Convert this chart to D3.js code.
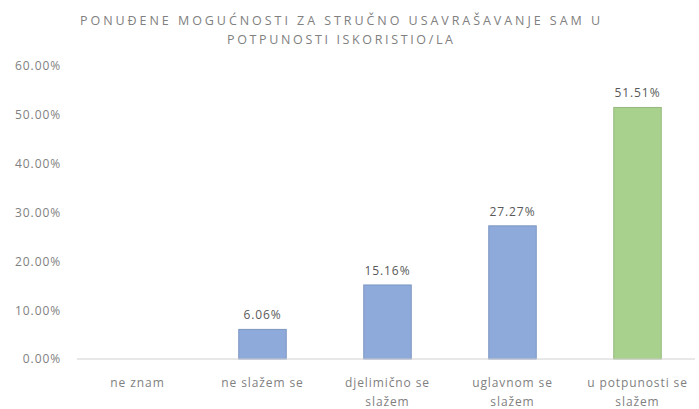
<!DOCTYPE html>
<html>
<head>
<meta charset="utf-8">
<script src="https://cdn.jsdelivr.net/npm/d3@7"></script>
<style>
    body { margin: 0; background: #ffffff; }
    text { font-family: "Open Sans", "Liberation Sans", sans-serif; }
</style>
</head>
<body>
<div id="chart"></div>
<script>
// chart data
const categories = [['ne znam'], ['ne slažem se'], ['djelimično se', 'slažem'], ['uglavnom se', 'slažem'], ['u potpunosti se', 'slažem']];
const values = [0, 6.06, 15.16, 27.27, 51.51];
const valueLabels = ['', '6.06%', '15.16%', '27.27%', '51.51%'];
const barColors = ['#8eaadb', '#8eaadb', '#8eaadb', '#8eaadb', '#a9d18e'];
const yTicks = [0, 10, 20, 30, 40, 50, 60];
const titleLines = ['PONUĐENE MOGUĆNOSTI ZA STRUČNO USAVRAŠAVANJE SAM U', 'POTPUNOSTI ISKORISTIO/LA'];

const width = 699, height = 409;
const labelSize = '12px';
const labelSpacing = '0.9px';

const svg = d3.select('#chart')
    .append('svg')
    .attr('width', width)
    .attr('height', height);

const idx = d3.range(values.length);

const x = d3.scaleBand()
    .domain(idx)
    .range([75, 700])
    .paddingInner(0.62)
    .paddingOuter(0.31);

const y = d3.scaleLinear()
    .domain([0, 60])
    .range([359, 66]);

// title, stretched to the width it has in the original
const titleWidths = [520, 226];
svg.append('g')
    .selectAll('text')
    .data(titleLines)
    .enter()
    .append('text')
    .attr('x', 340)
    .attr('y', (d, i) => 25 + i * 19)
    .attr('text-anchor', 'middle')
    .attr('fill', '#808080')
    .attr('textLength', (d, i) => titleWidths[i])
    .attr('lengthAdjust', 'spacing')
    .style('font-size', '12.5px')
    .text(d => d);

// y axis labels (no line)
const yAxis = d3.axisLeft(y)
    .tickValues(yTicks)
    .tickSize(0)
    .tickPadding(0)
    .tickFormat(d => d.toFixed(2) + '%');

svg.append('g')
    .attr('transform', 'translate(61,0)')
    .call(yAxis)
    .call(g => g.select('.domain').remove())
    .call(g => g.selectAll('text')
        .attr('fill', '#7f7f7f')
        .style('font-size', labelSize)
        .style('letter-spacing', labelSpacing)
        .style('font-family', '"Open Sans", sans-serif'));

// bars
svg.append('g')
    .selectAll('rect')
    .data(idx.filter(i => values[i] > 0))
    .enter()
    .append('rect')
    .attr('x', i => x(i))
    .attr('y', i => y(values[i]))
    .attr('width', x.bandwidth())
    .attr('height', i => y(0) - y(values[i]))
    .attr('fill', i => barColors[i])
    .attr('stroke', i => d3.color(barColors[i]).darker(0.35))
    .attr('stroke-width', 1);

// baseline
svg.append('line')
    .attr('x1', 77)
    .attr('x2', 695)
    .attr('y1', y(0))
    .attr('y2', y(0))
    .attr('stroke', '#d0d0d0')
    .attr('stroke-width', 1);

// value labels
svg.append('g')
    .selectAll('text')
    .data(idx.filter(i => valueLabels[i] !== ''))
    .enter()
    .append('text')
    .attr('x', i => x(i) + x.bandwidth() / 2)
    .attr('y', i => y(values[i]) - 10)
    .attr('text-anchor', 'middle')
    .attr('fill', '#595959')
    .style('font-size', labelSize)
    .style('letter-spacing', labelSpacing)
    .text(i => valueLabels[i]);

// category labels
const cat = svg.append('g')
    .selectAll('text')
    .data(idx)
    .enter()
    .append('text')
    .attr('x', i => x(i) + x.bandwidth() / 2)
    .attr('y', 387)
    .attr('text-anchor', 'middle')
    .attr('fill', '#7f7f7f')
    .style('font-size', labelSize)
    .style('letter-spacing', labelSpacing);

cat.selectAll('tspan')
    .data(i => categories[i].map(t => ({ t, cx: x(i) + x.bandwidth() / 2 })))
    .enter()
    .append('tspan')
    .attr('x', d => d.cx)
    .attr('dy', (d, j) => j === 0 ? 0 : 19)
    .text(d => d.t);
</script>
</body>
</html>
